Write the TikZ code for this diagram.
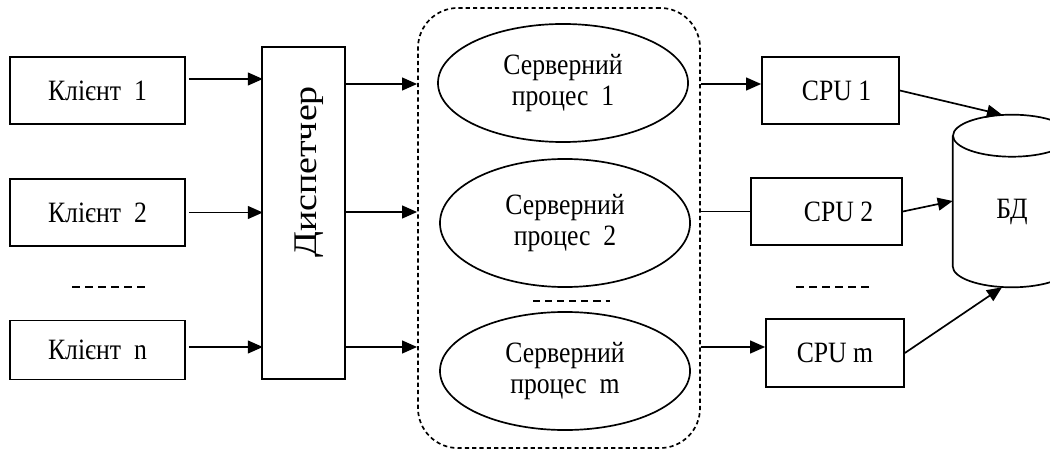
\documentclass[tikz,border=0pt]{standalone}
\usepackage{fontspec}
\usepackage{graphicx}
\setmainfont{Liberation Serif}
\usetikzlibrary{arrows.meta,positioning,calc,shapes.geometric}
\definecolor{ink}{HTML}{000000}
\newcommand{\narrowtxt}[1]{\scalebox{0.87}[1]{#1}}
\tikzset{
  clientbox/.style={
    draw=ink,
    line width=1.2pt,
    minimum width=4.375cm,
    minimum height=1.675cm,
    inner sep=0pt,
    font=\fontsize{21}{21.5}\selectfont
  },
  dispbox/.style={
    draw=ink,
    line width=1.2pt,
    minimum width=2.075cm,
    minimum height=8.3cm,
    inner sep=0pt
  },
  procell/.style={
    ellipse,
    draw=ink,
    line width=1.2pt,
    minimum width=6.25cm,
    minimum height=2.95cm,
    inner sep=0pt,
    align=center,
    font=\fontsize{21}{21.5}\selectfont
  },
  cpubox/.style={
    draw=ink,
    line width=1.2pt,
    minimum height=1.675cm,
    inner sep=0pt,
    font=\fontsize{21}{21.5}\selectfont
  },
  dbarea/.style={minimum width=2.95cm,minimum height=4.3cm,inner sep=0pt},
  dbline/.style={draw=ink,line width=1.2pt},
  grpframe/.style={draw=ink,line width=1.2pt,dash pattern=on 3pt off 2.2pt,rounded corners=1cm,minimum width=7.05cm,minimum height=11cm,inner sep=0pt},
  flowarrow/.style={-{Triangle[length=3.75mm,width=3.2mm]},line width=1.2pt,draw=ink},
  flowline/.style={line width=1.2pt,draw=ink},
  skipdash/.style={line width=1.2pt,draw=ink,dash pattern=on 5.7pt off 3.6pt}
}

\begin{document}
\begin{tikzpicture}[x=0.025cm,y=-0.025cm]
  \useasboundingbox (0,0) rectangle (1050,452);

  % clients
  \node[clientbox] (cl1) at (97.5, 90.5) {\narrowtxt{Клієнт\ \ 1}};
  \node[clientbox] (cl2) at (97.5,212.5) {\narrowtxt{Клієнт\ \ 2}};
  \node[clientbox, minimum height=1.475cm] (cln) at (97.5,350) {\narrowtxt{Клієнт\ \ n}};
  \draw[skipdash] (72,287) -- (150,287);

  % dispatcher
  \node[dispbox] (disp) at (303.5,213) {};
  \node[rotate=90, font=\fontsize{27}{30}\selectfont] (displbl) at (309,172) {\scalebox{1}[0.87]{Диспетчер}};

  \foreach \c/\dy in {cl1/-11.5,cl2/0,cln/-3}
    \draw[flowarrow] ($(\c.east)+(3,\dy)$) -- +(74,0);

  % server processes
  \node[grpframe] (grp) at (559,228) {};
  \node[procell] (sp1) at (563, 83) {\narrowtxt{Серверний}\\\narrowtxt{процес\ \ 1}};
  \node[procell, minimum height=3.2cm] (sp2) at (565,223) {\narrowtxt{Серверний}\\\narrowtxt{процес\ \ 2}};
  \node[procell] (sp3) at (565,371) {\narrowtxt{Серверний}\\\narrowtxt{процес\ \ m}};
  \draw[skipdash, dash pattern=on 5pt off 3.6pt] (533,301) -- (610,301);

  \coordinate (r1) at (0,84);
  \coordinate (r2) at (0,212);
  \coordinate (r3) at (0,347);
  \foreach \r in {r1,r2,r3}
    \draw[flowarrow] (disp.east |- \r) -- (grp.west |- \r);

  % cpus
  \node[cpubox, minimum width=3.425cm] (cpu1) at (830.5, 90.5) {\hspace{0.3cm}\narrowtxt{CPU 1}};
  \node[cpubox, minimum width=3.775cm] (cpu2) at (826.5,211.5) {\hspace{0.6cm}\narrowtxt{CPU 2}};
  \node[cpubox, minimum width=3.45cm, minimum height=1.7cm] (cpum) at (835,353) {\narrowtxt{CPU m}};
  \draw[skipdash] (796,287) -- (873,287);

  \draw[flowarrow] (grp.east |- r1) -- (cpu1.west |- r1);
  \draw[flowline]  (grp.east |- cpu2.west) -- (cpu2.west);
  \draw[flowarrow] (grp.east |- r3) -- (cpum.west |- r3);

  % database
  \node[dbarea] (db) at (1012,201) {};
  \draw[dbline] ([yshift=-0.525cm]db.north west) -- ([yshift=0.525cm]db.south west)
    arc[start angle=180,end angle=360,x radius=1.475cm,y radius=0.525cm]
    -- ([yshift=-0.525cm]db.north east);
  \draw[dbline] ([yshift=-0.525cm]db.north) ellipse [x radius=1.475cm,y radius=0.525cm];
  \node[font=\fontsize{21}{21.5}\selectfont] (dblbl) at ([yshift=-0.275cm]db.center) {\narrowtxt{БД}};

  \draw[flowarrow] (cpu1.east) -- ([xshift=-0.25cm]db.north);
  \draw[flowarrow] (cpu2.east) -- (db.west);
  \draw[flowarrow] (cpum.east) -- ([xshift=-0.25cm]db.south);
\end{tikzpicture}
\end{document}
